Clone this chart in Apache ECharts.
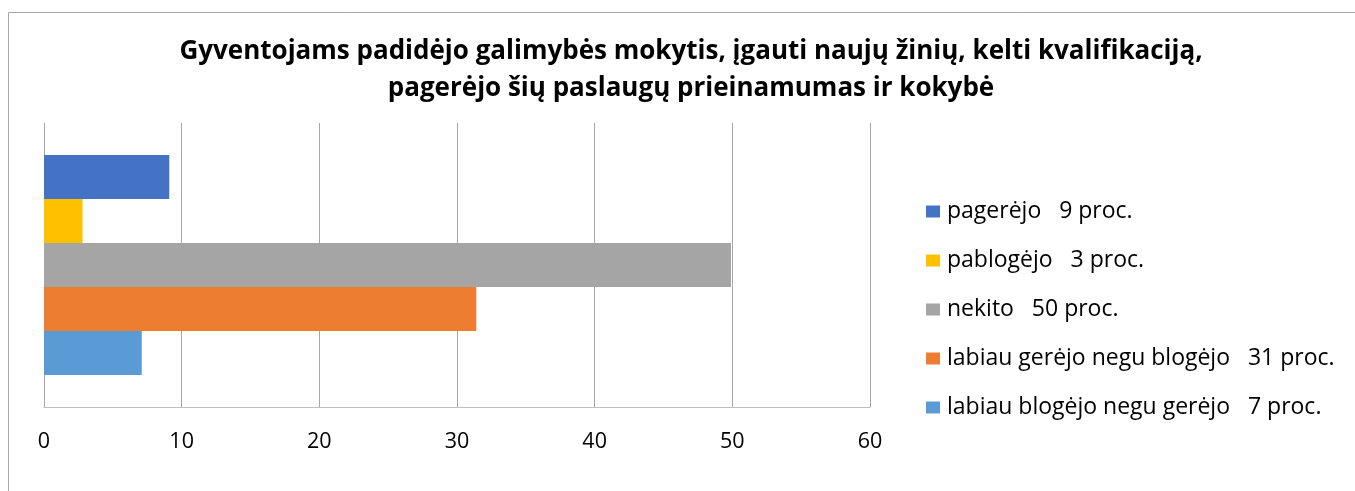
<!DOCTYPE html>
<html>
<head>
<meta charset="utf-8">
<script src="https://cdn.jsdelivr.net/npm/echarts@6/dist/echarts.min.js"></script>
<style>
html,body{margin:0;padding:0;background:#fff;}
#chart{width:1355px;height:491px;}
</style>
</head>
<body>
<div id="chart"></div>
<script>
const titleText = 'Gyventojams padidėjo galimybės mokytis, įgauti naujų žinių, kelti kvalifikaciją,\npagerėjo šių paslaugų prieinamumas ir kokybė';
const categories = [''];
const seriesNames = ['pagerėjo   9 proc.', 'pablogėjo   3 proc.', 'nekito   50 proc.', 'labiau gerėjo negu blogėjo   31 proc.', 'labiau blogėjo negu gerėjo   7 proc.'];
const seriesValues = [9.1, 2.8, 49.9, 31.4, 7.1];
const seriesColors = ['#4472C4', '#FFC000', '#A5A5A5', '#ED7D31', '#5B9BD5'];
const xTicks = [0, 10, 20, 30, 40, 50, 60];

const FONT = '"Open Sans"';
const chart = echarts.init(document.getElementById('chart'), null, {renderer: 'canvas'});
const series = seriesNames.map((name, i) => ({
  name: name,
  type: 'bar',
  data: [seriesValues[i]],
  itemStyle: {color: seriesColors[i]},
  barGap: '0%',
  barCategoryGap: '22.5%',
  animation: false
}));
chart.setOption({
  animation: false,
  backgroundColor: '#ffffff',
  title: {
    text: titleText,
    left: 686,
    textAlign: 'center',
    top: 28,
    textStyle: {fontFamily: FONT, fontWeight: 'bold', fontSize: 26, lineHeight: 37, color: '#000'}
  },
  graphic: [{
    type: 'polyline',
    shape: {points: [[8.5, 491], [8.5, 12.5], [1355, 12.5]]},
    style: {stroke: '#a6a6a6', lineWidth: 1, fill: null},
    silent: true
  }],
  legend: {
    orient: 'vertical',
    left: 921,
    top: 195,
    itemWidth: 14,
    itemHeight: 12,
    itemGap: 26,
    icon: 'rect',
    data: seriesNames,
    textStyle: {fontFamily: FONT, fontSize: 23, color: '#000', lineHeight: 22, padding: [0, 0, 0, 2]}
  },
  grid: {left: 44, right: 485, top: 123, bottom: 84, containLabel: false},
  xAxis: {
    type: 'value',
    min: 0, max: 60, interval: 10,
    axisLine: {show: true, lineStyle: {color: '#bfbfbf', width: 1}},
    axisTick: {show: false},
    splitLine: {show: true, lineStyle: {color: '#a6a6a6', width: 1}},
    axisLabel: {
      fontFamily: FONT, fontSize: 21.5, color: '#000', margin: 24,
      formatter: v => xTicks.includes(v) ? String(v) : ''
    }
  },
  yAxis: {
    type: 'category',
    data: categories,
    axisLine: {show: false},
    axisTick: {show: false},
    axisLabel: {show: false},
    splitLine: {show: false}
  },
  series: series
});
</script>
</body>
</html>
